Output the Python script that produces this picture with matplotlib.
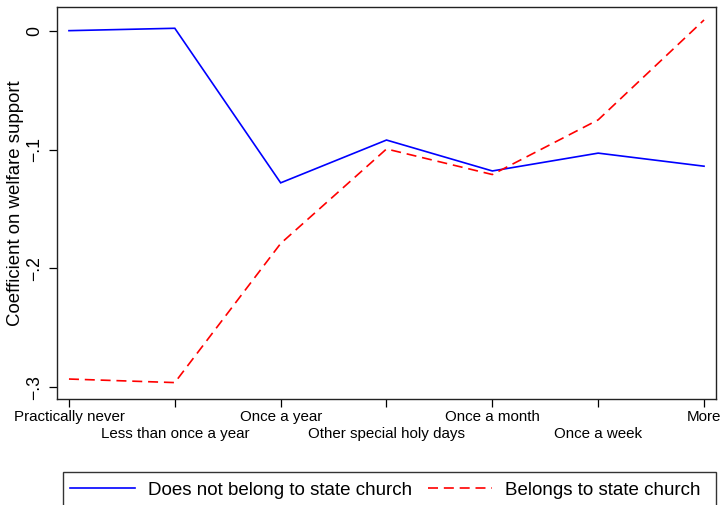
import matplotlib
matplotlib.use("Agg")
import matplotlib.pyplot as plt
from matplotlib.patches import Rectangle
from matplotlib.lines import Line2D

plt.rcParams['font.family'] = ['Liberation Sans', 'DejaVu Sans']

categories = ["Practically never", "Less than once a year", "Once a year",
              "Other special holy days", "Once a month", "Once a week", "More"]
not_state_church = [0.000, 0.002, -0.128, -0.092, -0.118, -0.103, -0.114]
state_church = [-0.293, -0.296, -0.179, -0.0995, -0.121, -0.075, 0.009]
y_ticks = [0, -0.1, -0.2, -0.3]
y_tick_labels = ["0", "\u2212.1", "\u2212.2", "\u2212.3"]

W, H = 723, 505
fig = plt.figure(figsize=(W / 100, H / 100), dpi=100)
ax = fig.add_axes([57 / W, 1 - 399 / H, (716 - 57) / W, (399 - 7) / H])

x = list(range(len(categories)))
ax.plot(x, not_state_church, color="#0000ff", lw=1.2, solid_joinstyle="miter")
ax.plot(x, state_church, color="#ff0000", lw=1.2, dashes=(6, 3.5))

ax.set_xlim(-0.113, 6.113)
ax.set_ylim(-0.3098, 0.0199)

# alternate category labels between two rows: even on major ticks, odd on minor ticks
ax.set_xticks(x[0::2])
ax.set_xticklabels(categories[0::2], fontsize=10.9)
ax.set_xticks(x[1::2], minor=True)
ax.set_xticklabels(categories[1::2], minor=True, fontsize=10.9)
ax.tick_params(axis="x", which="both", direction="out", length=6, width=0.9)
ax.tick_params(axis="x", which="major", pad=2)
ax.tick_params(axis="x", which="minor", pad=14.2)

ax.set_yticks(y_ticks)
ax.set_yticklabels(y_tick_labels, fontsize=12.7, rotation=90, va="center")
ax.tick_params(axis="y", direction="out", length=6, width=0.9, pad=4)
for s in ax.spines.values():
    s.set_linewidth(1.0)
    s.set_color("#222222")

fig.text(16 / W, 1 - 203 / H, "Coefficient on welfare support", rotation=90,
         ha="center", va="center", fontsize=13.4)

# legend box, extending below the lower edge of the figure
fig.patches.append(Rectangle((63 / W, 1 - 512 / H), (716 - 63) / W, 40 / H,
                             transform=fig.transFigure, fill=False,
                             edgecolor="#333333", lw=1.0))
handles = [Line2D([], [], color="#0000ff", lw=1.2),
           Line2D([], [], color="#ff0000", lw=1.2, dashes=(6, 3.5))]
fig.legend(handles, ["Does not belong to state church", "Belongs to state church"],
           loc="center left", bbox_to_anchor=(70 / W, 1 - 490 / H), ncol=2,
           frameon=False, fontsize=13.5, handlelength=3.45, columnspacing=0.85,
           handletextpad=0.69, borderaxespad=0, borderpad=0)

fig.savefig("out.png", dpi=100)
